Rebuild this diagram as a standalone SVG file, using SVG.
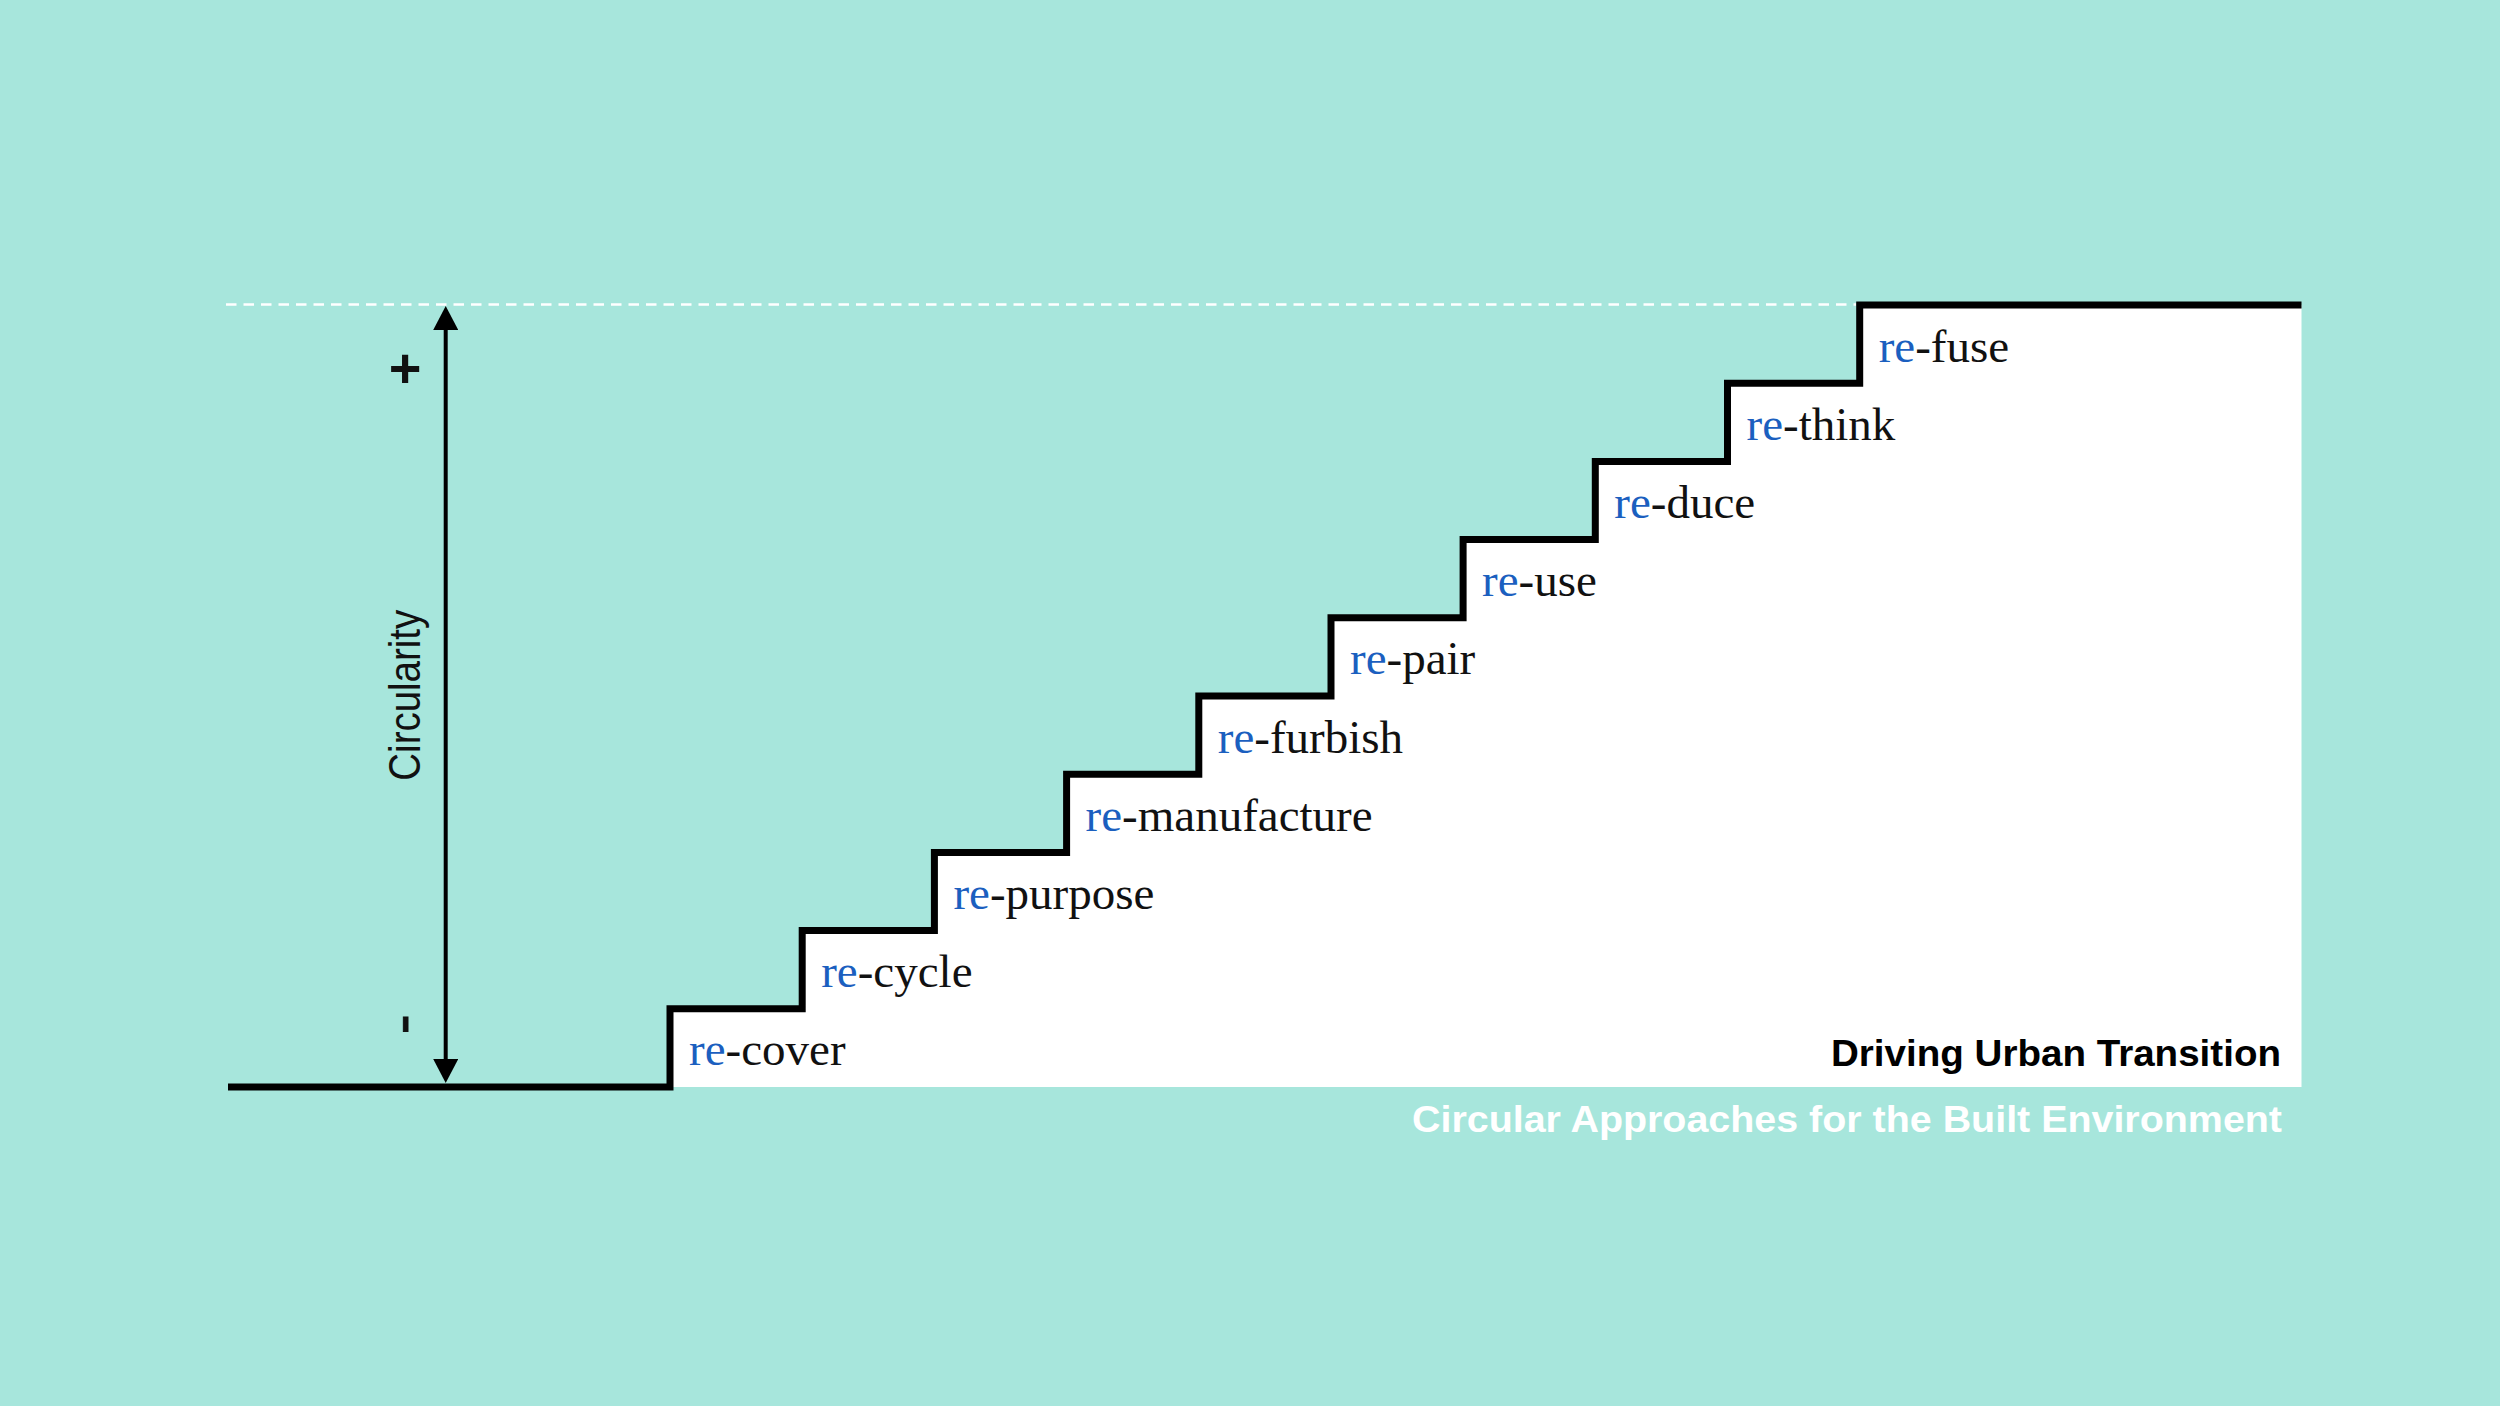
<svg xmlns="http://www.w3.org/2000/svg" width="2500" height="1406" viewBox="0 0 2500 1406">
  <defs>
    <style>
      .lbl { font-family: "Liberation Serif", "Times New Roman", serif; font-size: 47px; fill: #111111; }
      .re { fill: #1b5fbf; }
      .axis-txt { font-family: "Liberation Sans", Arial, sans-serif; fill: #111111; }
      .title { font-family: "Liberation Sans", Arial, sans-serif; font-weight: bold; font-size: 37px; }
      .stair { fill: none; stroke: #000000; stroke-width: 7; stroke-linejoin: miter; stroke-linecap: butt; }
      .arrow { stroke: #000000; stroke-width: 4; fill: none; }
    </style>
    <marker id="head" viewBox="0 0 24 25" refX="12" refY="12.5" markerWidth="24" markerHeight="25" markerUnits="userSpaceOnUse" orient="auto-start-reverse">
      <path d="M0,0 L24,12.5 L0,25 Z" fill="#000000"/>
    </marker>
  </defs>

  <rect x="0" y="0" width="2500" height="1406" fill="#a7e6dc"/>

  <g id="staircase">
    <path d="M670,1087 V1008.8 H802.2 V930.6 H934.4 V852.4 H1066.6 V774.2 H1198.8 V696 H1331 V617.8 H1463.1 V539.6 H1595.3 V461.4 H1727.5 V383.2 H1859.7 V305 H2301.5 V1087 Z" fill="#ffffff"/>
    <line x1="226" y1="304.5" x2="1856" y2="304.5" stroke="#ffffff" stroke-width="2.5" stroke-dasharray="10.5 7"/>
    <path class="stair" d="M228,1087 H670 V1008.8 H802.2 V930.6 H934.4 V852.4 H1066.6 V774.2 H1198.8 V696 H1331 V617.8 H1463.1 V539.6 H1595.3 V461.4 H1727.5 V383.2 H1859.7 V305 H2301.5"/>
  </g>

  <g id="connectors">
    <line class="arrow" x1="445.7" y1="318" x2="445.7" y2="1071" marker-start="url(#head)" marker-end="url(#head)"/>
  </g>

  <g id="axis-label">
    <text class="axis-txt" x="0" y="0" font-size="44" textLength="171" lengthAdjust="spacingAndGlyphs" transform="translate(419.5,780.7) rotate(-90)">Circularity</text>
    <text class="axis-txt" x="405" y="387" font-size="56" font-weight="bold" text-anchor="middle">+</text>
    <text class="axis-txt" x="0" y="0" font-size="60" text-anchor="middle" stroke="#111111" stroke-width="1" transform="translate(420.8,1024.3) rotate(-90)">-</text>
  </g>

  <g id="step-recover"><text class="lbl" x="689" y="1065.3"><tspan class="re">re</tspan>-cover</text></g>
  <g id="step-recycle"><text class="lbl" x="821.2" y="987.1"><tspan class="re">re</tspan>-cycle</text></g>
  <g id="step-repurpose"><text class="lbl" x="953.4" y="908.9"><tspan class="re">re</tspan>-purpose</text></g>
  <g id="step-remanufacture"><text class="lbl" x="1085.6" y="830.7"><tspan class="re">re</tspan>-manufacture</text></g>
  <g id="step-refurbish"><text class="lbl" x="1217.8" y="752.5"><tspan class="re">re</tspan>-furbish</text></g>
  <g id="step-repair"><text class="lbl" x="1350" y="674.3"><tspan class="re">re</tspan>-pair</text></g>
  <g id="step-reuse"><text class="lbl" x="1482.1" y="596.1"><tspan class="re">re</tspan>-use</text></g>
  <g id="step-reduce"><text class="lbl" x="1614.3" y="517.9"><tspan class="re">re</tspan>-duce</text></g>
  <g id="step-rethink"><text class="lbl" x="1746.5" y="439.7"><tspan class="re">re</tspan>-think</text></g>
  <g id="step-refuse"><text class="lbl" x="1878.7" y="361.5"><tspan class="re">re</tspan>-fuse</text></g>

  <g id="title">
    <text class="title" x="2281" y="1065.5" text-anchor="end" fill="#000000" textLength="450" lengthAdjust="spacingAndGlyphs">Driving Urban Transition</text>
    <text class="title" x="2282" y="1131.5" text-anchor="end" fill="#ffffff" textLength="870" lengthAdjust="spacingAndGlyphs">Circular Approaches for the Built Environment</text>
  </g>
</svg>
